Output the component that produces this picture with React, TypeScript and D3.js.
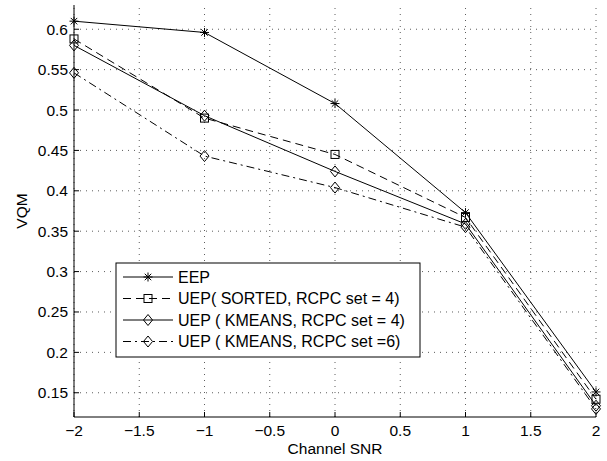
import React from "react";
import * as d3 from "d3";

const snr = [-2, -1, 0, 1, 2];
const eep = [0.61, 0.596, 0.508, 0.373, 0.151];
const uepSorted = [0.588, 0.49, 0.445, 0.367, 0.142];
const uepKmeans4 = [0.58, 0.493, 0.424, 0.359, 0.134];
const uepKmeans6 = [0.546, 0.443, 0.404, 0.355, 0.13];
const xTicks = [-2, -1.5, -1, -0.5, 0, 0.5, 1, 1.5, 2];
const yTicks = [0.15, 0.2, 0.25, 0.3, 0.35, 0.4, 0.45, 0.5, 0.55, 0.6];
const seriesNames = [
  "EEP",
  "UEP( SORTED, RCPC set = 4)",
  "UEP ( KMEANS, RCPC set = 4)",
  "UEP ( KMEANS, RCPC set =6)",
];

const W = 607;
const H = 461;
const L = 74, R = 596, T = 5, B = 417;
const FONT = "Liberation Sans, Arial, Helvetica, sans-serif";
const FS = 15.5;
const LFS = 16;

const x = d3.scaleLinear().domain([-2, 2]).range([L, R]);
const y = d3.scaleLinear().domain([0.12, 0.63]).range([B, T]);

type Marker = "star" | "square" | "diamond";

function MarkerShape({ type, cx, cy }: { type: Marker; cx: number; cy: number }) {
  if (type === "star") {
    const r = 4.5;
    const d = r * 0.72;
    return (
      <g stroke="#000" strokeWidth={1}>
        <line x1={cx - r} y1={cy} x2={cx + r} y2={cy} />
        <line x1={cx} y1={cy - r} x2={cx} y2={cy + r} />
        <line x1={cx - d} y1={cy - d} x2={cx + d} y2={cy + d} />
        <line x1={cx - d} y1={cy + d} x2={cx + d} y2={cy - d} />
      </g>
    );
  }
  if (type === "square") {
    const s = 4;
    return <rect x={cx - s} y={cy - s} width={2 * s} height={2 * s} fill="none" stroke="#000" strokeWidth={1} />;
  }
  const w = 4.5, h = 5.5;
  return (
    <path
      d={`M${cx},${cy - h}L${cx + w},${cy}L${cx},${cy + h}L${cx - w},${cy}Z`}
      fill="none"
      stroke="#000"
      strokeWidth={1}
    />
  );
}

const series = [
  { values: eep, dash: undefined as string | undefined, marker: "star" as Marker },
  { values: uepSorted, dash: "8 5", marker: "square" as Marker },
  { values: uepKmeans4, dash: undefined, marker: "diamond" as Marker },
  { values: uepKmeans6, dash: "8 4 2 4", marker: "diamond" as Marker },
];

export default function App() {
  const line = d3
    .line<number>()
    .x((_, i) => x(snr[i]))
    .y((v) => y(v));

  const legX = 116, legY = 263, legW = 304, legH = 94;
  const rowY = (i: number) => legY + 14 + i * 21.5;

  return (
    <svg width={W} height={H} style={{ position: "absolute", left: 0, top: 0, background: "#fff" }}>
      <rect x={0} y={0} width={W} height={H} fill="#fff" />
      {/* grid */}
      <g stroke="#000" strokeWidth={0.8} strokeDasharray="1 5" opacity={0.8}>
        {xTicks.map((t) => (
          <line key={"gx" + t} x1={x(t)} x2={x(t)} y1={B} y2={T} />
        ))}
        {yTicks.map((t) => (
          <line key={"gy" + t} x1={L} x2={R} y1={y(t)} y2={y(t)} />
        ))}
      </g>
      {/* axes */}
      <line x1={L} x2={L} y1={T} y2={B} stroke="#000" strokeWidth={1} />
      <line x1={L} x2={R} y1={B} y2={B} stroke="#000" strokeWidth={1} />
      {xTicks.map((t) => (
        <g key={"xt" + t}>
          <line x1={x(t)} x2={x(t)} y1={B} y2={B - 5} stroke="#000" />
          <text x={x(t)} y={B + 19} fontSize={FS} fontFamily={FONT} textAnchor="middle">
            {t < 0 ? "\u2212" + Math.abs(t) : String(t)}
          </text>
        </g>
      ))}
      {yTicks.map((t) => (
        <g key={"yt" + t}>
          <line x1={L} x2={L + 5} y1={y(t)} y2={y(t)} stroke="#000" />
          <text x={L - 6} y={y(t) + 5.5} fontSize={FS} fontFamily={FONT} textAnchor="end">
            {String(t)}
          </text>
        </g>
      ))}
      <text x={(L + R) / 2} y={B + 37} fontSize={FS} fontFamily={FONT} textAnchor="middle">
        Channel SNR
      </text>
      <text
        x={0}
        y={0}
        transform={`translate(27,${(T + B) / 2}) rotate(-90)`}
        fontSize={FS}
        fontFamily={FONT}
        textAnchor="middle"
      >
        VQM
      </text>
      {/* series */}
      {series.map((s, si) => (
        <g key={"s" + si}>
          <path d={line(s.values) || ""} fill="none" stroke="#000" strokeWidth={1} strokeDasharray={s.dash} />
          {s.values.map((v, i) => (
            <MarkerShape key={i} type={s.marker} cx={x(snr[i])} cy={y(v)} />
          ))}
        </g>
      ))}
      {/* legend */}
      <rect x={legX} y={legY} width={legW} height={legH} fill="#fff" stroke="#000" strokeWidth={1} />
      {series.map((s, i) => (
        <g key={"l" + i}>
          <line
            x1={legX + 7}
            x2={legX + 57}
            y1={rowY(i)}
            y2={rowY(i)}
            stroke="#000"
            strokeDasharray={s.dash}
          />
          <MarkerShape type={s.marker} cx={legX + 32} cy={rowY(i)} />
          <text x={legX + 62} y={rowY(i) + 5.5} fontSize={LFS} fontFamily={FONT}>
            {seriesNames[i]}
          </text>
        </g>
      ))}
    </svg>
  );
}
